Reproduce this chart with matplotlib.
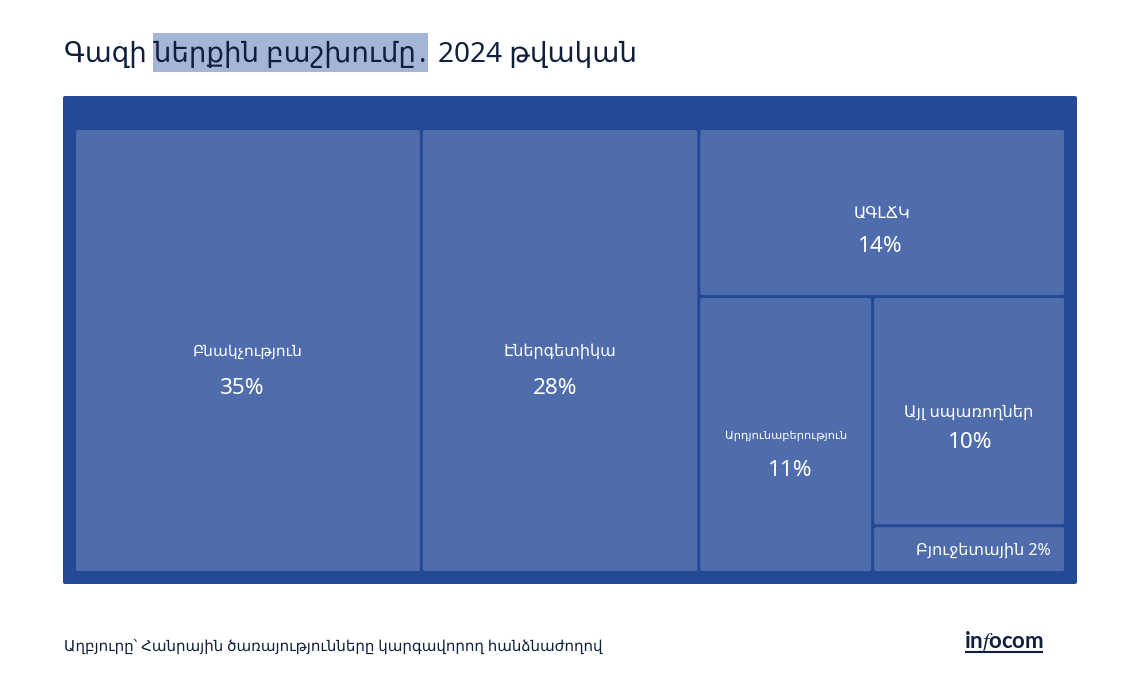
import matplotlib
matplotlib.use("Agg")
import matplotlib.pyplot as plt
from matplotlib.patches import FancyBboxPatch, Rectangle

plt.rcParams["font.family"] = ["Noto Sans", "DejaVu Sans"]

categories = ["Բնակչություն", "Էներգետիկա", "ԱԳԼՃԿ", "Արդյունաբերություն", "Այլ սպառողներ", "Բյուջետային"]
shares = [35, 28, 14, 10.9, 10.05, 2.05]
title_parts = ["Գազի ներքին բաշխումը", ".", "2024 թվական"]
source = "Աղբյուրը՝ Հանրային ծառայությունները կարգավորող հանձնաժողով"

BG = "#244a96"
TILE = "#4f6dac"
DARK = "#0f1f3d"
GAP = 3

fig = plt.figure(figsize=(11.4, 7), dpi=100)
ax = fig.add_axes([0, 0, 1, 1])
ax.set_xlim(0, 1140)
ax.set_ylim(700, 0)
ax.axis("off")


def box(x0, y0, x1, y1, color, r=2):
    ax.add_patch(FancyBboxPatch((x0 + r, y0 + r), x1 - x0 - 2 * r, y1 - y0 - 2 * r,
                                boxstyle="round,pad={},rounding_size={}".format(r, r),
                                fc=color, ec="none"))


def pct(i):
    return "{:.0f}%".format(shares[i])


ax.add_patch(Rectangle((153, 33), 275, 39, fc="#a5b5d6", ec="none"))
ax.text(64, 55, title_parts[0], fontsize=19.9, color=DARK, ha="left", va="center")
ax.text(419, 55, title_parts[1], fontsize=19.9, color=DARK, ha="left", va="center")
ax.text(438, 55, title_parts[2], fontsize=20.1, color=DARK, ha="left", va="center")

box(63, 96, 1077, 584, BG)

# treemap layout, driven by the shares
left, top, right, bottom = 76, 130, 1064, 571
w = right - left + GAP
h = bottom - top + GAP
total = sum(shares)
x1 = left + w * shares[0] / total
x2 = x1 + w * shares[1] / total
rest = sum(shares[2:])
y_mid = top + h * shares[2] / rest
low = sum(shares[3:])
x_mid = x2 + (right + GAP - x2) * shares[3] / low
y_low = y_mid + (bottom + GAP - y_mid) * shares[4] / sum(shares[4:])

cells = [
    (left, top, x1, bottom + GAP),
    (x1, top, x2, bottom + GAP),
    (x2, top, right + GAP, y_mid),
    (x2, y_mid, x_mid, bottom + GAP),
    (x_mid, y_mid, right + GAP, y_low),
    (x_mid, y_low, right + GAP, bottom + GAP),
]
for c in cells:
    box(c[0], c[1], c[2] - GAP, c[3] - GAP, TILE)

# label positions tuned by eye
ax.text(248, 352, categories[0], color="white", fontsize=11.1, ha="center", va="center")
ax.text(242, 388, pct(0), color="white", fontsize=16.2, ha="center", va="center")
ax.text(560, 352, categories[1], color="white", fontsize=11.5, ha="center", va="center")
ax.text(555, 388, pct(1), color="white", fontsize=16.2, ha="center", va="center")
ax.text(882, 214, categories[2], color="white", fontsize=11.5, ha="center", va="center")
ax.text(880, 246, pct(2), color="white", fontsize=16.2, ha="center", va="center")
ax.text(786, 436, categories[3], color="white", fontsize=8.2, ha="center", va="center")
ax.text(790, 471, pct(3), color="white", fontsize=16.2, ha="center", va="center")
ax.text(969, 413, categories[4], color="white", fontsize=11.7, ha="center", va="center")
ax.text(970, 443, pct(4), color="white", fontsize=16.2, ha="center", va="center")
ax.text(1051, 551, "{} {}".format(categories[5], pct(5)), color="white", fontsize=11.5, ha="right", va="center")

ax.text(64, 647, source, color=DARK, fontsize=10.8, ha="left", va="center")

# logo
ax.text(964, 648, r"in$\mathit{f}$ocom", color=DARK, fontsize=16, family="Lato", fontweight="bold",
        math_fontfamily="stix", ha="left", va="baseline")
ax.plot([965, 1043], [652, 652], color=DARK, lw=1.5, solid_capstyle="butt")

fig.savefig("out.png", dpi=100)
